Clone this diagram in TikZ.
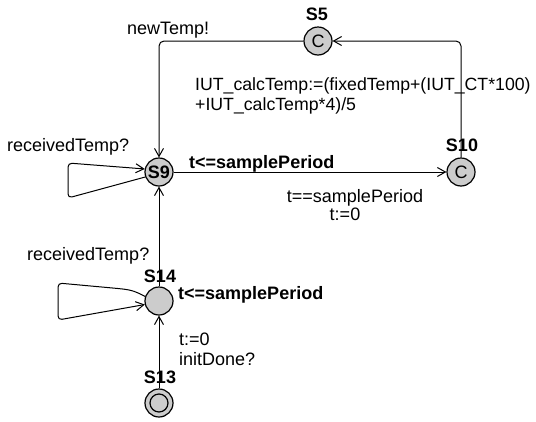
\documentclass[tikz,border=0pt]{standalone}
\usepackage{fontspec}
\setmainfont{Liberation Sans}
\usetikzlibrary{arrows.meta}
\definecolor{locfill}{RGB}{204,204,204}
\begin{document}
\begin{tikzpicture}[x=1pt,y=-1pt,
  loc/.style={circle,draw=black,fill=locfill,line width=1.2pt,minimum size=28pt,inner sep=0pt,font=\fontsize{18}{20}\selectfont},
  edge/.style={line width=1pt,-{Straight Barb[length=8pt,width=9pt]}},
  lbl/.style={inner sep=0pt,font=\fontsize{18}{20}\selectfont},
  updlbl/.style={inner sep=0pt,font=\fontsize{17.7}{20}\selectfont},
  locname/.style={inner sep=0pt,font=\fontsize{18}{20}\selectfont\bfseries}
]
\useasboundingbox (0,0) rectangle (536,421);

% locations
\node[loc] (S5)  at (318,41)  {C};
\node[loc] (S10) at (461,172) {C};
\node[loc,font=\fontsize{18}{20}\selectfont\bfseries] (S9) at (159,172) {S9};
\node[loc] (S14) at (159,301) {};
\node[loc] (S13) at (159,403) {};
\node[circle,draw=black,line width=1.2pt,minimum size=18pt,inner sep=0pt] (S13in) at (S13) {};

% location names and invariants
\node[locname,anchor=base] (nS5)  at (317,20)  {S5};
\node[locname,anchor=base] (nS10) at (462,151) {S10};
\node[locname,anchor=base] (nS14) at (160,282) {S14};
\node[locname,anchor=base] (nS13) at (160,383) {S13};
\node[locname,anchor=base west] (inv9)  at (189,168) {t<=samplePeriod};
\node[locname,anchor=base west] (inv14) at (178,299) {t<=samplePeriod};

% edge labels
\node[lbl,anchor=base west] (syncNew) at (127,34) {newTemp!};
\node[updlbl,anchor=base west] (upd1) at (195,90)  {IUT\_calcTemp:=(fixedTemp+(IUT\_CT*100)};
\node[updlbl,anchor=base west] (upd2) at (195,110) {+IUT\_calcTemp*4)/5};
\node[lbl,anchor=base west] (syncR9) at (7,151) {receivedTemp?};
\node[lbl,anchor=base] (guard) at (355,202) {t==samplePeriod};
\node[lbl,anchor=base] (reset1) at (345,220) {t:=0};
\node[lbl,anchor=base west] (syncR14) at (27,260) {receivedTemp?};
\node[lbl,anchor=base west] (reset2) at (179,345) {t:=0};
\node[lbl,anchor=base west] (syncInit) at (179,365) {initDone?};

% transitions
\draw[edge,rounded corners=5pt] (S10) |- (S5);
\draw[edge,rounded corners=5pt] (S5) -| (S9);
\draw[edge] (S9) -- (S10);
\draw[edge] (S14) -- (S9);
\draw[edge] (S13) -- (S14);

% self loops
\coordinate (L9a) at (68,163);
\coordinate (L9b) at (68,198);
\draw[edge,rounded corners=4pt] (S9.200) -- (L9b) -- (L9a) -- (S9.168);
\coordinate (L14a) at (58,283);
\coordinate (L14b) at (58,320);
\draw[edge,rounded corners=4pt] (S14.162) .. controls (137,292) and (132,290) .. (118,288.5) -- (L14a) -- (L14b) -- (S14.194);
\end{tikzpicture}
\end{document}
